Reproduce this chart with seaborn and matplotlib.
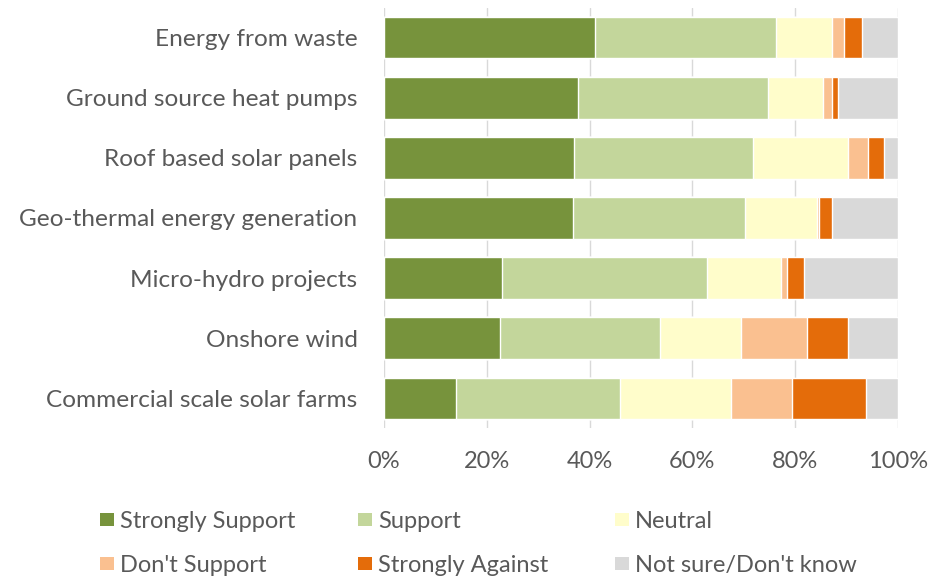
import matplotlib
matplotlib.use("Agg")
import matplotlib.pyplot as plt
from matplotlib.patches import Patch
import numpy as np
import pandas as pd
import seaborn as sns

categories = [
    "Energy from waste",
    "Ground source heat pumps",
    "Roof based solar panels",
    "Geo-thermal energy generation",
    "Micro-hydro projects",
    "Onshore wind",
    "Commercial scale solar farms",
]
responses = ["Strongly Support", "Support", "Neutral",
             "Don't Support", "Strongly Against", "Not sure/Don't know"]

strongly_support = [41.0, 37.7, 37.0, 36.7, 23.0, 22.5, 14.0]
support = [35.3, 37.1, 34.8, 33.6, 39.8, 31.3, 32.0]
neutral = [10.8, 10.7, 18.4, 14.0, 14.4, 15.6, 21.5]
dont_support = [2.4, 1.6, 4.0, 0.4, 1.2, 13.0, 11.8]
strongly_against = [3.5, 1.2, 3.1, 2.4, 3.4, 7.8, 14.4]
not_sure = [7.0, 11.7, 2.7, 12.9, 18.2, 9.8, 6.3]

colors = ["#77933C", "#C3D69B", "#FFFDCB", "#FAC090", "#E46C0A", "#D9D9D9"]
text_color = "#595959"

sns.set_theme(style="white")
plt.rcParams["font.family"] = ["Lato", "DejaVu Sans"]

df = pd.DataFrame({
    "category": categories,
    responses[0]: strongly_support,
    responses[1]: support,
    responses[2]: neutral,
    responses[3]: dont_support,
    responses[4]: strongly_against,
    responses[5]: not_sure,
})
cum = df[responses].cumsum(axis=1)
cum["category"] = df["category"]

fig = plt.figure(figsize=(9.42, 5.78), dpi=100)
ax = fig.add_axes([0.4076, 0.259, 0.5456, 0.7277])

# stacked bars: draw cumulative totals from the last segment to the first
for resp, col in reversed(list(zip(responses, colors))):
    sns.barplot(data=cum, x=resp, y="category", color=col, width=0.69,
                saturation=1, ax=ax, zorder=2)

ax.set_xlim(0, 100)
ax.set_xticks(np.arange(0, 101, 20))
ax.set_xticklabels([f"{t}%" for t in range(0, 101, 20)])
ax.set_xlabel("")
ax.set_ylabel("")
ax.grid(axis="x", color="#D9D9D9", linewidth=1, zorder=0)
ax.set_axisbelow(True)
for s in ax.spines.values():
    s.set_visible(False)
ax.tick_params(axis="both", length=0, labelcolor=text_color)
ax.tick_params(axis="x", labelsize=17, pad=16)
ax.tick_params(axis="y", labelsize=17.6, pad=19)

# legend: three columns, two rows, each column placed on its own
handles = [Patch(facecolor=c, edgecolor="none", label=r) for r, c in zip(responses, colors)]
col_x = [100 / 942, 358 / 942, 615 / 942]
for j, x in enumerate(col_x):
    fig.legend([handles[j], handles[j + 3]], [responses[j], responses[j + 3]],
               loc="upper left", bbox_to_anchor=(x, 1 - 511 / 578), frameon=False,
               fontsize=17, handlelength=0.6, handleheight=0.5, handletextpad=0.25,
               labelspacing=0.97, borderpad=0, borderaxespad=0,
               labelcolor=text_color)

fig.savefig("out.png", dpi=100)
